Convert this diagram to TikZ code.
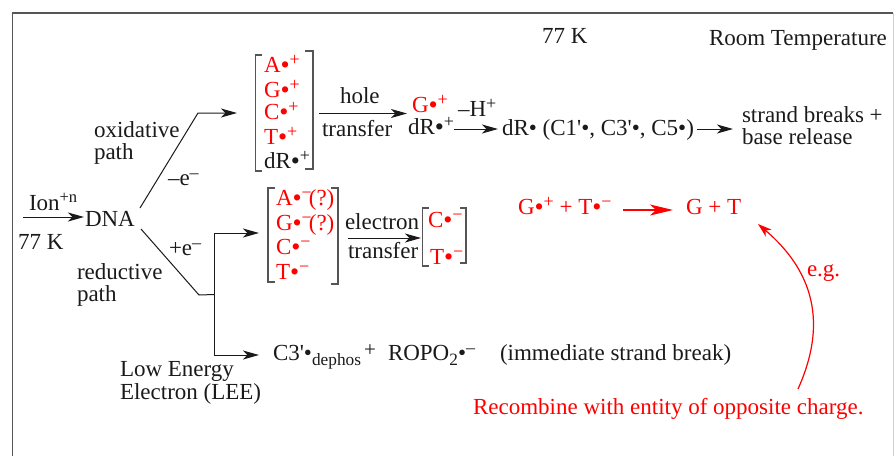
\documentclass[tikz,border=0pt]{standalone}
\usepackage{fontspec}
\newfontfamily\lsf{Liberation Serif}
\usetikzlibrary{arrows.meta}
\definecolor{ink}{HTML}{1A1A1A}
\definecolor{framec}{HTML}{555555}
\definecolor{redc}{HTML}{FF0000}
\newcommand{\upsc}[1]{\raisebox{6.5pt}{\fontsize{18}{18}\selectfont #1}}
\newcommand{\bigdot}{\raisebox{-1.5pt}{\fontsize{26}{26}\selectfont •}}
\newcommand{\rplus}{\bigdot\upsc{+}}
\newcommand{\rminus}{\bigdot\upsc{−}}
\tikzset{
  txt/.style={inner sep=0pt,outer sep=0pt,anchor=base west,text=ink,font=\lsf\fontsize{23}{24}\selectfont},
  rtxt/.style={txt,text=redc},
  conn/.style={draw=ink,line width=1pt},
  arr/.style={conn,-{Stealth[length=16pt,width=9pt,inset=4.5pt]}},
  rarr/.style={draw=redc,line width=1.1pt,-{Stealth[length=23pt,width=11pt,inset=6pt]}},
  rcurve/.style={draw=redc,line width=1.2pt,-{Stealth[length=14pt,width=9pt,inset=4pt]}},
  brk/.style={draw=framec,line width=1.2pt},
}
\begin{document}
\begin{tikzpicture}[x=1pt,y=-1pt]
\useasboundingbox (0,0) rectangle (895,456);
% frame
\draw[draw=framec,line width=1.6pt] (12.5,456) -- (12.5,13) -- (893,13);
\draw[draw=black!18,line width=1pt] (893.5,13) -- (893.5,456);
% headers
\node[txt] (t77) at (542,43) {77 K};
\node[txt] (troom) at (709,45) {Room Temperature};
% left
\node[txt] (tion) at (29,210) {Ion\raisebox{7.5pt}{\fontsize{16.5}{17}\selectfont +n}};
\node[txt] (tdna) at (85,226) {DNA};
\node[txt] (t77l) at (18,249) {77 K};
\node[txt] (tox1) at (94,137) {oxidative};
\node[txt] (tox2) at (94,159) {path};
\node[txt] (tme) at (168,185) {–e\upsc{–}};
\node[txt] (tpe) at (169,255) {+e\upsc{–}};
\node[txt] (tre1) at (77,279) {reductive};
\node[txt] (tre2) at (77,301.5) {path};
\node[txt] (tle1) at (120,376) {Low Energy};
\node[txt] (tle2) at (120,399) {Electron (LEE)};
% oxidised set
\node[rtxt] (oa) at (264,72) {A\rplus};
\node[rtxt] (og) at (264,97) {G\rplus};
\node[rtxt] (oc) at (264,119) {C\rplus};
\node[rtxt] (ot) at (264,144) {T\rplus};
\node[txt] (odr) at (264,168) {dR\rplus};
\draw[brk] (262,55) -- (255.5,55) -- (255.5,171) -- (262,171);
\draw[brk] (305,51) -- (313,51) -- (313,169) -- (305,169);
\node[txt] (thole) at (340,103) {hole};
\node[txt] (ttr1) at (322,136) {transfer};
\node[rtxt] (gp) at (412,112) {G\rplus};
\node[txt] (drp) at (408,134) {dR\rplus};
\node[txt] (tmh) at (458,116) {–H\upsc{+}};
\node[txt] (drad) at (502,135) {dR• (C1'•, C3'•, C5•)};
\node[txt] (ts1) at (742,122) {strand breaks +};
\node[txt] (ts2) at (742,144) {base release};
% reduced set
\node[rtxt] (ra) at (276,205) {A\rminus\kern-3pt(?)};
\node[rtxt] (rg) at (276,230) {G\rminus\kern-3pt(?)};
\node[rtxt] (rc) at (276,254) {C\rminus};
\node[rtxt] (rt) at (276,279) {T\rminus};
\draw[brk] (275,188) -- (268,188) -- (268,282) -- (275,282);
\draw[brk] (331,188) -- (338,188) -- (338,284) -- (331,284);
\node[txt] (tel) at (345,229) {electron};
\node[txt] (ttr2) at (348,258) {transfer};
\node[rtxt] (c2) at (428,227) {C\rminus};
\node[rtxt] (t2) at (430,264) {T\rminus};
\draw[brk] (429,208) -- (422.5,208) -- (422.5,266) -- (429,266);
\draw[brk] (460,208) -- (466,208) -- (466,263) -- (460,263);
% LEE products
\node[txt] (c3) at (273,360) {C3'•\raisebox{-5pt}{\fontsize{17.3}{18}\selectfont dephos}};
\node[txt] (tplus) at (364,356) {\fontsize{21}{22}\selectfont +};
\node[txt] (ropo) at (388,360) {ROPO\raisebox{-5pt}{\fontsize{17.3}{18}\selectfont 2}•\upsc{–}};
\node[txt] (imm) at (500,360) {(immediate strand break)};
% red
\node[rtxt] (rec1) at (518,214) {G\rplus{} + T\rminus};
\node[rtxt] (rec2) at (686,214) {G + T};
\node[rtxt] (teg) at (807,276) {e.g.};
\node[rtxt] (trec) at (473,414) {Recombine with entity of opposite charge.};
% connector ends
\coordinate (ion0) at (23,217);
\coordinate (ion1) at (84,217);
\coordinate (ox0) at (140,208);
\coordinate (ox1) at (198,113);
\coordinate (ox2) at (237,113);
\coordinate (hole0) at (319,113.5);
\coordinate (hole1) at (407,113.5);
\coordinate (h0) at (454,129);
\coordinate (h1) at (498,129);
\coordinate (dr0) at (697,129);
\coordinate (dr1) at (733,129);
\coordinate (re0) at (141,229);
\coordinate (re1) at (199,295);
\coordinate (re2) at (214.5,294.5);
\coordinate (up) at (214.5,233);
\coordinate (upe) at (259,233);
\coordinate (dn) at (214.5,355);
\coordinate (dne) at (259,355);
\coordinate (el0) at (348,238);
\coordinate (el1) at (421,238);
\coordinate (rr0) at (623,210);
\coordinate (rr1) at (673,210);
\coordinate (cv0) at (798,389);
\coordinate (cv1) at (758,224);
% connectors
\draw[arr] (ion0) -- (ion1);
\draw[arr] (ox0) -- (ox1) -- (ox2);
\draw[arr] (hole0) -- (hole1);
\draw[arr] (h0) -- (h1);
\draw[arr] (dr0) -- (dr1);
\draw[conn] (re0) -- (re1) -- (re2);
\draw[arr] (re2) -- (up) -- (upe);
\draw[arr] (re2) -- (dn) -- (dne);
\draw[arr] (el0) -- (el1);
\draw[rarr] (rr0) -- (rr1);
\draw[rcurve] (cv0) .. controls (820,340) and (826,282) .. (cv1);
\end{tikzpicture}
\end{document}
